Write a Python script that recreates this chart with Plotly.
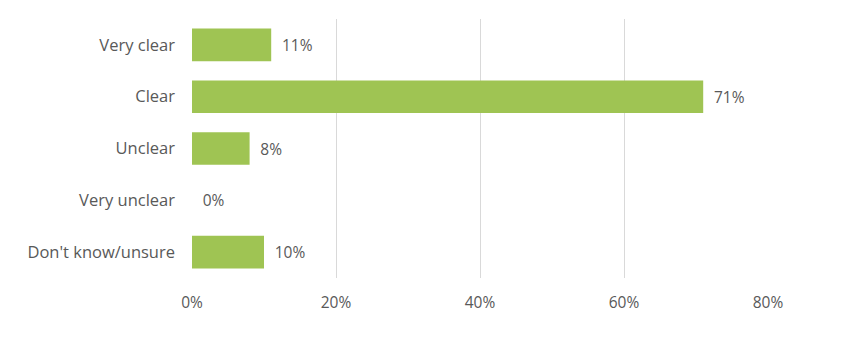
import plotly.graph_objects as go

categories = ["Very clear", "Clear", "Unclear", "Very unclear", "Don't know/unsure"]
values = [11, 71, 8, 0, 10]
x_ticks = [0, 20, 40, 60, 80]
x_tick_labels = ["0%", "20%", "40%", "60%", "80%"]

FONT = "Open Sans, Noto Sans, sans-serif"
TXT = "#595959"

fig = go.Figure(go.Bar(
    y=categories,
    x=values,
    orientation="h",
    marker=dict(color="#9FC453", line=dict(width=0)),
    text=[f"\u2002{v}%" for v in values],
    textposition="outside",
    textfont=dict(family=FONT, size=15.5, color=TXT),
    cliponaxis=False,
))

fig.update_layout(
    width=859, height=342,
    margin=dict(l=192, r=91, t=19, b=64),
    paper_bgcolor="white", plot_bgcolor="white",
    bargap=0.37,
    showlegend=False,
    font=dict(family=FONT, size=15.5, color=TXT),
)
fig.update_xaxes(
    range=[0, 80], tickvals=x_ticks, ticktext=x_tick_labels,
    showgrid=True, gridcolor="#d9d9d9", gridwidth=1,
    zeroline=False, showline=False,
    ticks="", ticklabelstandoff=13,
    tickfont=dict(family=FONT, size=15.5, color=TXT),
)
fig.update_yaxes(
    categoryorder="array", categoryarray=categories[::-1],
    showgrid=False, zeroline=False, showline=False,
    ticks="", ticklabelstandoff=16,
    tickfont=dict(family=FONT, size=16.5, color=TXT),
)

fig.write_html("out.html")
